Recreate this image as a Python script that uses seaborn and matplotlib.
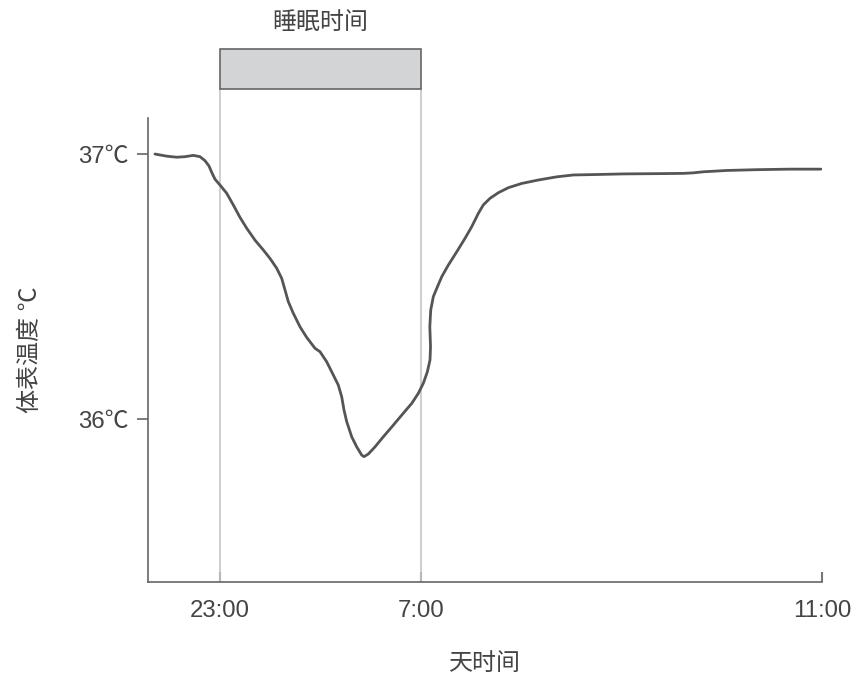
import matplotlib
matplotlib.use("Agg")
import matplotlib.pyplot as plt
import matplotlib.transforms as mtransforms
from matplotlib.patches import Rectangle
import seaborn as sns
import pandas as pd

# ---- data (hours relative to 23:00 on a display scale) ----
hours = [-2.592, -2.125, -1.726, -1.396, -1.065, -0.797, -0.598, -0.439, -0.331,
         -0.199, 0.000, 0.267, 0.530, 0.797, 1.065, 1.396, 1.726, 1.994, 2.261,
         2.460, 2.592, 2.723, 2.923, 3.190, 3.457, 3.788, 3.987, 4.254, 4.518,
         4.717, 4.852, 4.944, 5.052, 5.251, 5.451, 5.650, 5.742, 5.913, 6.180,
         6.511, 6.910, 7.309, 7.644, 7.907, 8.106, 8.266, 8.373, 8.393, 8.365,
         8.401, 8.505, 8.641, 8.840, 9.103, 9.438, 9.769, 10.036, 10.299, 10.498,
         10.766, 11.097, 11.495, 12.029, 12.691, 13.425, 14.087, 15.152, 16.080,
         17.412, 18.473, 18.872, 19.270, 20.203, 21.400, 22.727, 23.960]
temps = [37.000, 36.992, 36.988, 36.990, 36.995, 36.990, 36.975, 36.955, 36.931,
         36.905, 36.883, 36.852, 36.808, 36.761, 36.720, 36.675, 36.638, 36.606,
         36.569, 36.531, 36.487, 36.443, 36.399, 36.348, 36.308, 36.267, 36.254,
         36.216, 36.166, 36.128, 36.084, 36.034, 35.990, 35.933, 35.895, 35.864,
         35.858, 35.868, 35.895, 35.933, 35.977, 36.022, 36.059, 36.097, 36.135,
         36.178, 36.223, 36.273, 36.348, 36.411, 36.462, 36.493, 36.537, 36.581,
         36.631, 36.682, 36.726, 36.776, 36.808, 36.833, 36.854, 36.873, 36.889,
         36.902, 36.914, 36.921, 36.923, 36.925, 36.926, 36.927, 36.929, 36.933,
         36.938, 36.941, 36.943, 36.943]
x_ticks = [0, 8, 24]
x_tick_labels = ["23:00", "7:00", "11:00"]
y_ticks = [36, 37]
y_tick_labels = ["36℃", "37℃"]
sleep_start, sleep_end = 0, 8
sleep_label = "睡眠时间"
x_label = "天时间"
y_label = "体表温度 ℃"

sns.set_theme(style="white")
plt.rcParams["font.family"] = ["Liberation Sans", "Noto Sans CJK SC", "DejaVu Sans"]

TXT = "#444444"
AX = "#666666"
FS = 17.3

fig = plt.figure(figsize=(8.55, 6.81), dpi=100)
ax = fig.add_axes([148 / 855, 1 - 582 / 681, 674 / 855, 464 / 681])

df = pd.DataFrame({"hour": hours, "temp": temps})
sns.lineplot(data=df, x="hour", y="temp", ax=ax, color="#555555", lw=2.0,
             estimator=None, sort=False)
for ln in ax.lines:
    ln.set_solid_joinstyle("round")
    ln.set_solid_capstyle("round")

ax.set_xlim(-2.87, 24)
ax.set_ylim(35.385, 37.136)

# sleep window
trans = mtransforms.blended_transform_factory(ax.transData, ax.transAxes)
for xv in (sleep_start, sleep_end):
    ax.plot([xv, xv], [0, 1.0625], transform=trans, color="#c6c6c6", lw=1.2,
            clip_on=False, zorder=1)
ax.add_patch(Rectangle((sleep_start, 1.0625), sleep_end - sleep_start, 0.0862,
                       transform=trans, facecolor="#d3d4d6", edgecolor="#666666",
                       lw=1.2, clip_on=False, zorder=3))
ax.text((sleep_start + sleep_end) / 2, 1.2026, sleep_label, transform=trans,
        ha="center", va="center", fontsize=FS, color=TXT)

ax.set_xticks(x_ticks)
ax.set_xticklabels(x_tick_labels)
ax.set_yticks(y_ticks)
ax.set_yticklabels(y_tick_labels)

ax.tick_params(axis="x", direction="in", length=7, width=1.5, colors="#777777",
               labelcolor=TXT, labelsize=FS, pad=13, bottom=True)
ax.tick_params(axis="y", direction="out", length=8, width=1.2, colors=AX,
               labelcolor=TXT, labelsize=FS, pad=6, left=True)

for s in ("top", "right"):
    ax.spines[s].set_visible(False)
for s in ("left", "bottom"):
    ax.spines[s].set_color(AX)
    ax.spines[s].set_linewidth(1.2)

ax.set_xlabel(x_label, fontsize=FS, color=TXT)
ax.set_ylabel(y_label, fontsize=FS, color=TXT)
ax.xaxis.set_label_coords(0.5, -0.153)
ax.yaxis.set_label_coords(-0.157, 0.5)

fig.savefig("out.png", dpi=100)
